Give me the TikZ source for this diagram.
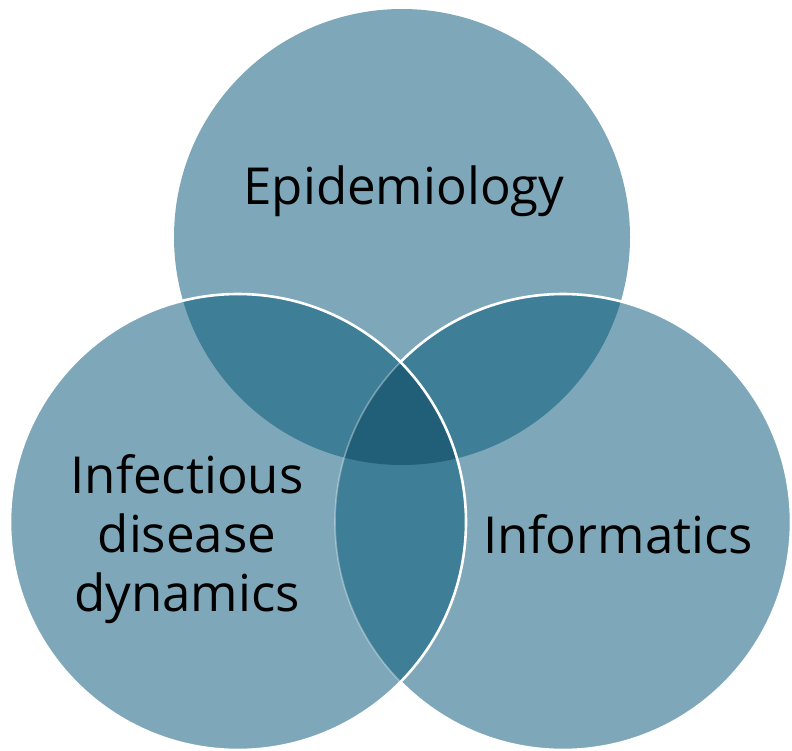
\documentclass[tikz,border=0pt]{standalone}
\usepackage{fontspec}
\setmainfont{Open Sans}
\definecolor{cone}{RGB}{126,168,185}
\definecolor{ctwo}{RGB}{63,126,151}
\definecolor{cthree}{RGB}{33,95,121}
\tikzset{
  label/.style={font=\fontsize{51}{59}\selectfont, text=black, inner sep=0pt, align=center},
  rim/.style={draw=white, line width=2.6pt},
  faintrim/.style={draw=white, draw opacity=0.35, line width=1.6pt}
}
\begin{document}
\begin{tikzpicture}[x=1pt,y=-1pt]
\useasboundingbox (0,0) rectangle (792,751);
\def\R{228}
\coordinate (T) at (402,237);
\coordinate (L) at (238,522);
\coordinate (Rc) at (563,522);
% single regions
\fill[cone] (T) circle (\R);
\fill[cone] (L) circle (\R);
\fill[cone] (Rc) circle (\R);
% pairwise
\begin{scope}\clip (T) circle (\R); \fill[ctwo] (L) circle (\R); \fill[ctwo] (Rc) circle (\R);\end{scope}
\begin{scope}\clip (L) circle (\R); \fill[ctwo] (Rc) circle (\R);\end{scope}
% triple
\begin{scope}\clip (T) circle (\R); \clip (L) circle (\R); \fill[cthree] (Rc) circle (\R);\end{scope}
% outlines
\begin{scope}[even odd rule]
  \clip (-20,-20) rectangle (812,771) (L) circle (\R);
  \draw[rim] (Rc) circle (\R);
\end{scope}
\begin{scope}
  \clip (L) circle (\R);
  \draw[faintrim] (Rc) circle (\R);
\end{scope}
\draw[rim] (L) circle (\R);
% labels
\node[label, anchor=base] (epi) at (404,205) {Epidemiology};
\node[label, anchor=base] (inf) at (618,553) {Informatics};
\node[label, anchor=base] (idd) at (187,611) {Infectious\\disease\\dynamics};
\end{tikzpicture}
\end{document}
